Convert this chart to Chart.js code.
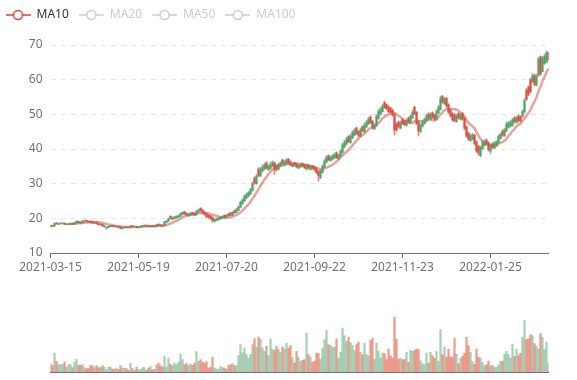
<!DOCTYPE html>
<html>
<head>
<meta charset="utf-8">
<script src="https://cdn.jsdelivr.net/npm/chart.js@4.4.1/dist/chart.umd.min.js"></script>
<style>
  html, body { margin: 0; padding: 0; background: #fff; }
  #wrap { position: relative; width: 577px; height: 380px; }
  #kline { position: absolute; left: 0; top: 0; }
  #vol { position: absolute; left: 0; top: 290px; }
</style>
</head>
<body>
<div id="wrap">
  <canvas id="kline" width="577" height="290"></canvas>
  <canvas id="vol" width="577" height="90"></canvas>
</div>
<script>
const tickDates = ['2021-03-15', '2021-05-19', '2021-07-20', '2021-09-22', '2021-11-23', '2022-01-25'];
const tickStep = 44;

const opens = [
  17.9, 17.9, 17.8, 18.6, 18.3, 18.4, 18.5, 18.6, 18.2, 18.3,
  18.3, 18.5, 18.3, 18.6, 19.1, 18.9, 18.7, 19.1, 19.4, 19.2,
  19.1, 19.0, 18.6, 18.9, 18.5, 18.1, 18.3, 17.6, 17.2, 17.4,
  17.6, 17.9, 17.8, 17.5, 17.7, 17.5, 17.1, 17.3, 17.5, 17.4,
  17.3, 17.8, 17.6, 17.7, 17.4, 17.5, 17.6, 17.8, 18.0, 17.8,
  17.6, 17.9, 17.8, 17.6, 18.3, 18.1, 18.0, 17.9, 18.8, 19.2,
  20.6, 19.7, 19.9, 20.1, 20.3, 20.6, 21.1, 21.9, 21.5, 20.7,
  21.0, 21.7, 21.5, 21.0, 21.8, 22.9, 22.4, 21.9, 21.4, 20.9,
  20.7, 20.3, 19.1, 19.4, 19.6, 19.8, 20.1, 20.9, 20.2, 21.3,
  21.5, 20.9, 22.2, 21.7, 22.3, 23.2, 24.2, 25.0, 25.9, 26.4,
  27.0, 28.0, 31.6, 30.0, 34.2, 32.2, 33.6, 34.2, 36.0, 34.0,
  34.4, 35.0, 36.0, 35.2, 34.2, 35.0, 36.8, 35.4, 35.8, 37.0,
  36.3, 35.0, 36.0, 35.7, 34.5, 34.8, 35.8, 35.4, 34.2, 35.4,
  34.1, 35.1, 34.8, 34.3, 33.6, 31.8, 33.2, 34.8, 36.2, 38.0,
  36.6, 37.0, 37.4, 38.9, 37.2, 37.9, 39.0, 40.6, 41.4, 43.6,
  41.8, 43.2, 44.0, 46.0, 45.0, 43.6, 46.4, 45.0, 46.4, 47.2,
  49.3, 48.0, 45.8, 46.8, 48.8, 50.0, 50.8, 53.4, 52.8, 52.2,
  51.8, 51.2, 50.0, 47.2, 47.8, 46.0, 48.5, 48.0, 46.8, 48.9,
  47.6, 49.0, 52.0, 50.6, 47.8, 45.0, 46.5, 47.3, 48.0, 50.1,
  48.6, 50.4, 49.8, 48.5, 50.4, 51.4, 55.2, 53.0, 54.6, 52.8,
  51.2, 50.2, 49.8, 47.9, 50.2, 48.5, 50.2, 48.9, 46.4, 44.6,
  42.4, 42.8, 44.0, 42.1, 40.8, 38.1, 40.1, 41.0, 42.6, 41.8,
  39.4, 41.5, 40.3, 41.0, 41.8, 43.0, 45.2, 43.8, 45.2, 46.2,
  46.6, 46.8, 49.0, 47.6, 49.6, 49.3, 49.4, 50.6, 57.0, 57.8,
  60.0, 59.4, 61.2, 58.4, 61.2, 66.6, 62.4, 64.6, 65.0, 67.8
];

const closes = [
  17.6, 17.7, 18.5, 18.4, 18.5, 18.6, 18.6, 18.3, 18.4, 18.4,
  18.5, 18.3, 18.7, 19.1, 18.8, 18.7, 19.2, 19.3, 19.1, 19.0,
  18.8, 18.7, 18.9, 18.5, 18.2, 18.3, 17.8, 17.8, 17.4, 17.7,
  17.9, 17.7, 17.6, 17.7, 17.5, 17.1, 17.3, 17.5, 17.3, 17.3,
  17.8, 17.6, 17.7, 17.4, 17.6, 17.7, 17.9, 18.0, 17.8, 17.6,
  17.9, 17.7, 17.6, 18.1, 18.0, 17.9, 17.8, 18.9, 19.2, 19.9,
  20.0, 20.2, 20.4, 20.6, 20.8, 21.4, 21.7, 21.3, 21.0, 21.2,
  21.5, 21.2, 21.0, 22.0, 22.4, 22.2, 21.6, 21.1, 20.5, 20.3,
  20.0, 19.3, 19.7, 19.9, 20.1, 20.4, 20.6, 20.4, 20.9, 20.8,
  21.0, 21.7, 21.6, 22.6, 23.3, 24.6, 25.3, 26.4, 26.9, 27.4,
  28.3, 30.0, 30.2, 32.2, 32.4, 34.2, 34.8, 35.4, 34.6, 35.1,
  35.6, 36.1, 34.0, 34.2, 35.6, 36.0, 35.8, 36.4, 36.8, 36.0,
  35.4, 35.8, 35.3, 34.9, 35.3, 35.5, 35.0, 34.6, 35.2, 34.5,
  34.9, 34.4, 34.0, 33.2, 32.3, 33.6, 35.0, 36.6, 37.6, 36.9,
  37.6, 38.0, 38.4, 37.5, 38.2, 39.4, 41.2, 42.0, 42.9, 42.1,
  43.8, 44.8, 45.4, 44.5, 43.9, 45.6, 45.2, 47.0, 47.8, 48.6,
  47.6, 46.2, 47.0, 49.4, 50.8, 51.5, 52.3, 52.0, 51.6, 50.8,
  50.6, 49.8, 45.4, 45.6, 46.5, 47.6, 47.3, 47.0, 48.3, 47.8,
  49.4, 50.6, 50.2, 47.4, 45.2, 46.8, 47.8, 48.5, 49.6, 48.9,
  50.0, 49.2, 48.7, 50.8, 52.0, 54.6, 53.6, 54.4, 52.4, 50.6,
  49.6, 48.4, 48.2, 49.6, 49.0, 49.8, 48.6, 46.0, 43.8, 42.8,
  43.9, 44.0, 41.6, 39.4, 38.8, 40.4, 41.9, 42.2, 41.4, 39.8,
  40.9, 40.5, 41.8, 42.0, 43.6, 44.2, 44.0, 45.5, 47.2, 47.5,
  47.8, 48.4, 47.8, 49.0, 48.2, 48.1, 50.8, 54.0, 54.4, 55.8,
  56.6, 61.2, 58.6, 61.0, 66.0, 61.6, 66.2, 66.8, 67.8, 65.8
];

const highs = [
  18.0, 18.0, 18.7, 18.8, 18.6, 18.7, 18.7, 18.7, 18.5, 18.5,
  18.6, 18.6, 18.8, 19.3, 19.2, 19.0, 19.4, 19.5, 19.6, 19.3,
  19.3, 19.1, 19.0, 19.0, 18.6, 18.4, 18.4, 17.9, 17.6, 17.8,
  18.0, 18.0, 17.9, 17.8, 17.8, 17.6, 17.4, 17.6, 17.6, 17.5,
  18.0, 17.9, 17.8, 17.8, 17.7, 17.8, 18.0, 18.1, 18.1, 17.9,
  18.0, 18.0, 17.9, 18.2, 18.5, 18.2, 18.1, 19.1, 19.4, 20.1,
  20.8, 20.4, 20.6, 20.8, 21.0, 21.6, 21.9, 22.0, 21.6, 21.4,
  21.7, 21.8, 21.6, 22.3, 22.7, 23.1, 22.6, 22.0, 21.5, 21.0,
  20.8, 20.4, 19.9, 20.1, 20.3, 20.6, 20.8, 21.0, 21.1, 21.4,
  21.7, 21.9, 22.4, 22.9, 23.6, 25.0, 25.7, 26.8, 27.3, 27.8,
  28.7, 30.5, 32.0, 32.7, 34.6, 34.7, 35.4, 36.0, 36.4, 35.5,
  36.3, 36.6, 36.3, 35.5, 36.0, 36.4, 37.1, 36.8, 37.3, 37.3,
  36.6, 36.1, 36.2, 35.9, 35.6, 35.8, 36.0, 35.6, 35.7, 35.6,
  35.2, 35.3, 35.0, 34.5, 33.8, 34.0, 35.4, 37.0, 38.1, 38.3,
  38.0, 38.4, 38.9, 39.2, 38.6, 39.8, 41.7, 42.6, 43.4, 43.9,
  44.3, 45.3, 45.9, 46.3, 45.3, 46.1, 46.7, 47.5, 48.3, 49.1,
  49.6, 48.3, 47.5, 49.9, 51.4, 52.0, 52.9, 53.8, 53.1, 52.5,
  52.1, 51.5, 50.3, 47.6, 48.1, 48.1, 48.8, 48.3, 48.8, 49.2,
  49.9, 51.2, 52.4, 50.9, 48.1, 47.3, 48.3, 49.0, 50.1, 50.4,
  50.5, 50.7, 50.1, 51.3, 52.6, 55.3, 55.5, 54.9, 54.9, 53.1,
  51.5, 50.5, 50.2, 50.1, 50.5, 50.3, 50.5, 49.2, 46.7, 44.9,
  44.4, 44.5, 44.3, 42.4, 41.1, 40.9, 42.4, 42.7, 42.9, 42.1,
  41.4, 41.8, 42.2, 42.4, 44.1, 44.7, 45.5, 46.0, 47.7, 48.0,
  48.3, 48.9, 49.3, 49.5, 49.9, 49.6, 51.3, 54.6, 57.4, 58.2,
  60.4, 61.8, 61.6, 61.6, 66.5, 66.9, 66.7, 67.4, 68.3, 68.0
];

const lows = [
  17.5, 17.6, 17.7, 18.3, 18.2, 18.3, 18.4, 18.2, 18.1, 18.2,
  18.2, 18.2, 18.2, 18.5, 18.7, 18.5, 18.6, 19.0, 19.0, 18.9,
  18.6, 18.5, 18.5, 18.3, 18.0, 18.0, 17.6, 17.4, 16.8, 17.3,
  17.5, 17.6, 17.5, 17.4, 17.4, 17.0, 16.9, 17.2, 17.2, 17.2,
  17.2, 17.5, 17.5, 17.3, 17.3, 17.4, 17.5, 17.7, 17.7, 17.5,
  17.5, 17.6, 17.5, 17.5, 17.9, 17.8, 17.7, 17.8, 18.7, 19.1,
  19.8, 19.6, 19.8, 20.0, 20.2, 20.5, 21.0, 21.1, 20.8, 20.6,
  20.9, 21.0, 20.8, 20.9, 21.7, 22.0, 21.4, 20.9, 20.2, 20.0,
  19.7, 18.9, 19.0, 19.3, 19.5, 19.7, 20.0, 20.2, 20.1, 20.6,
  20.8, 20.8, 21.4, 21.6, 22.2, 23.0, 24.0, 24.8, 25.7, 26.2,
  26.8, 27.8, 29.8, 29.8, 32.0, 32.0, 33.4, 34.0, 34.2, 33.8,
  34.2, 34.8, 32.6, 33.6, 34.0, 34.8, 35.5, 35.2, 35.6, 35.7,
  35.1, 34.8, 35.0, 34.6, 34.3, 34.6, 34.8, 34.3, 34.0, 34.2,
  33.9, 34.1, 33.7, 32.8, 30.8, 31.4, 33.0, 34.6, 36.0, 36.6,
  36.4, 36.8, 37.2, 37.2, 37.0, 37.7, 38.8, 40.4, 41.2, 41.8,
  41.6, 43.0, 43.8, 44.2, 43.5, 43.4, 44.9, 44.8, 46.2, 47.0,
  47.3, 45.8, 45.6, 46.6, 48.6, 49.8, 50.6, 51.7, 51.3, 50.5,
  50.3, 49.5, 44.0, 45.1, 46.0, 45.8, 47.0, 46.7, 46.6, 47.5,
  47.4, 48.8, 49.9, 47.0, 43.8, 44.8, 46.3, 47.1, 47.8, 48.6,
  48.4, 48.9, 48.4, 48.3, 50.2, 51.2, 53.2, 52.8, 52.0, 50.2,
  49.2, 48.0, 47.8, 47.7, 48.7, 48.3, 48.3, 45.5, 43.3, 42.4,
  42.2, 42.6, 41.2, 39.0, 38.2, 37.7, 39.9, 40.8, 41.1, 39.4,
  38.6, 40.2, 40.1, 40.8, 41.6, 42.8, 43.6, 43.6, 45.0, 46.0,
  46.4, 46.6, 47.5, 47.4, 47.9, 47.8, 49.2, 50.4, 54.0, 55.4,
  56.2, 59.2, 58.3, 58.2, 61.0, 61.3, 62.2, 64.4, 64.8, 65.4
];

const volumes = [
  8.3, 6.3, 19, 10.7, 7.3, 7.3, 7.3, 10, 5, 7.3,
  7.3, 4.3, 10, 13, 6.7, 6.7, 7.3, 4.3, 3.3, 3.3,
  6.3, 6.3, 4.3, 6.3, 4.3, 4.3, 6.3, 5, 2.3, 5,
  5, 3, 3, 4, 2.3, 6.3, 4, 4, 3.3, 1.7,
  9, 3.3, 1.7, 5, 2.3, 2.3, 4.3, 4.3, 1.7, 4,
  5.7, 2.3, 2.3, 7.3, 9, 6.3, 5, 15.7, 5, 14,
  7.7, 6.3, 9, 7.3, 9.7, 18, 12.3, 7.3, 8.3, 6.7,
  8, 6.7, 9, 20.3, 10.7, 12.3, 9.7, 9, 10.3, 4,
  5, 15, 4, 3, 2.3, 5.7, 4.3, 4, 3, 6.3,
  7.3, 8.3, 6.3, 6.3, 16.3, 27.3, 19, 24, 17.3, 14,
  17.3, 27.3, 33.3, 24.7, 35, 33, 24, 20.7, 25.7, 16.3,
  33, 23, 21.3, 25.7, 23, 19.7, 25, 23, 29, 24,
  26.3, 15, 9, 20.7, 15, 10.7, 11.7, 12.3, 39, 17.3,
  15, 9.7, 10.7, 19, 18.3, 13, 24, 32.3, 41.7, 27.3,
  26.7, 25, 25, 33, 14, 20, 44, 36.3, 30.7, 35,
  29.7, 26.7, 21.7, 27.3, 30, 19.7, 17.3, 29, 17.3, 16.3,
  31.7, 34, 13, 29, 20.7, 14, 19, 18.3, 12.3, 23,
  16.3, 14, 55, 33, 13, 14, 12.3, 12.3, 20, 9.7,
  21.7, 20.7, 21.7, 23, 22.3, 11.3, 8.3, 7.3, 19, 9,
  20, 16.3, 14, 20.7, 10.7, 42.3, 17.3, 25, 15, 23,
  15, 15, 34, 18, 8.3, 14, 15.7, 19, 35, 26.3,
  19.7, 10.3, 7.7, 23, 15, 14, 9.7, 6.3, 7.3, 11,
  6.3, 6.3, 5, 5, 7, 11, 11, 18, 20.7, 17.3,
  14, 28, 15.7, 23, 16.3, 19, 34.7, 51.3, 32.3, 33.3,
  37.3, 36.3, 28.3, 25.7, 23, 38.3, 34.7, 22.3, 29.7, 8.3
];

const upColor = '#4ea368';
const downColor = '#dc4c3e';
const upWick = 'rgba(78, 163, 104, 0.7)';
const downWick = 'rgba(220, 76, 62, 0.7)';
const upVolColor = 'rgba(84, 160, 112, 0.5)';
const downVolColor = 'rgba(226, 88, 64, 0.6)';

Chart.defaults.font.family = "'Noto Sans', sans-serif";
Chart.defaults.font.size = 12;

const categories = closes.map((c, i) => i);
const rising = closes.map((c, i) => c >= opens[i]);

function movingAverage(n) {
    return closes.map((c, i) => {
        if (i < n - 1) return null;
        let sum = 0;
        for (let j = i - n + 1; j <= i; j++) sum += closes[j];
        return +(sum / n).toFixed(3);
    });
}

function legendIcon(color) {
    const c = document.createElement('canvas');
    c.width = 25;
    c.height = 14;
    const g = c.getContext('2d');
    g.strokeStyle = color;
    g.lineWidth = 1.5;
    g.beginPath();
    g.moveTo(0, 7);
    g.lineTo(25, 7);
    g.stroke();
    g.beginPath();
    g.arc(12.5, 7, 4.5, 0, Math.PI * 2);
    g.fillStyle = '#fff';
    g.fill();
    g.stroke();
    return c;
}

const maLine = (label, n, hidden) => ({
    type: 'line',
    label: label,
    data: movingAverage(n),
    hidden: hidden,
    borderColor: 'rgba(208, 69, 59, 0.5)',
    borderWidth: 2.5,
    pointRadius: 0,
    tension: 0.4
});

// legend sits above the grid, push the grid down to the 70 line
const legendGap = {
    id: 'legendGap',
    beforeInit(chart) {
        const fit = chart.legend.fit;
        chart.legend.fit = function () {
            fit.call(this);
            this.height = 46;
        };
    }
};

const priceChart = new Chart(document.getElementById('kline'), {
    type: 'bar',
    data: {
        labels: categories,
        datasets: [
            {
                label: 'wick',
                data: lows.map((l, i) => [l, highs[i]]),
                backgroundColor: rising.map(r => r ? upWick : downWick),
                barThickness: 1,
                grouped: false
            },
            {
                label: 'body',
                data: opens.map((o, i) => [o, closes[i]]),
                backgroundColor: rising.map(r => r ? upColor : downColor),
                barThickness: 1.4,
                grouped: false
            },
            maLine('MA10', 10, false),
            maLine('MA20', 20, true),
            maLine('MA50', 50, true),
            maLine('MA100', 100, true)
        ]
    },
    options: {
        responsive: false,
        animation: false,
        layout: { padding: { left: -4.5, right: 28.5, top: -1, bottom: 15 } },
        plugins: {
            tooltip: { enabled: false },
            legend: {
                align: 'start',
                labels: {
                    usePointStyle: true,
                    pointStyleWidth: 25,
                    padding: 10,
                    font: { size: 12 },
                    generateLabels: (chart) => chart.data.datasets
                        .map((ds, i) => ({ ds, i }))
                        .filter(o => o.ds.type === 'line')
                        .map(({ ds, i }) => {
                            const on = chart.isDatasetVisible(i);
                            return {
                                text: ds.label,
                                datasetIndex: i,
                                hidden: false,
                                fontColor: on ? '#333' : '#ccc',
                                pointStyle: legendIcon(on ? '#d0453b' : '#ccc'),
                                lineWidth: 0,
                                strokeStyle: 'transparent',
                                fillStyle: 'transparent'
                            };
                        })
                }
            }
        },
        scales: {
            x: {
                offset: false,
                grid: { display: true, offset: false, drawOnChartArea: false, tickLength: 5, tickColor: '#6e7079' },
                border: { color: '#6e7079' },
                ticks: {
                    autoSkip: false,
                    maxRotation: 0,
                    padding: 2,
                    color: '#6e7079',
                    callback: (v) => tickDates[v / tickStep]
                },
                afterBuildTicks: (scale) => {
                    scale.ticks = scale.ticks.filter(t => t.value % tickStep === 0);
                },
                afterFit: (scale) => { scale.height = 22; }
            },
            y: {
                min: 10,
                max: 70,
                ticks: { stepSize: 10, padding: 8, color: '#6e7079' },
                grid: { color: '#e0e6f1', drawTicks: false },
                border: { display: false, dash: [5, 5] },
                afterFit: (scale) => { scale.width = 55; }
            }
        }
    },
    plugins: [legendGap]
});

const volumeChart = new Chart(document.getElementById('vol'), {
    type: 'bar',
    data: {
        labels: categories,
        datasets: [{
            label: 'Volume',
            data: volumes,
            backgroundColor: rising.map(r => r ? upVolColor : downVolColor),
            barThickness: 1.6
        }]
    },
    options: {
        responsive: false,
        animation: false,
        layout: { padding: { left: 50.5, right: 28.5, top: 22, bottom: 8 } },
        plugins: { legend: { display: false }, tooltip: { enabled: false } },
        scales: {
            x: {
                offset: false,
                grid: { display: false, drawTicks: false },
                ticks: { display: false },
                border: { color: '#6e7079' }
            },
            y: { min: 0, max: 60, display: false }
        }
    }
});
</script>
</body>
</html>
